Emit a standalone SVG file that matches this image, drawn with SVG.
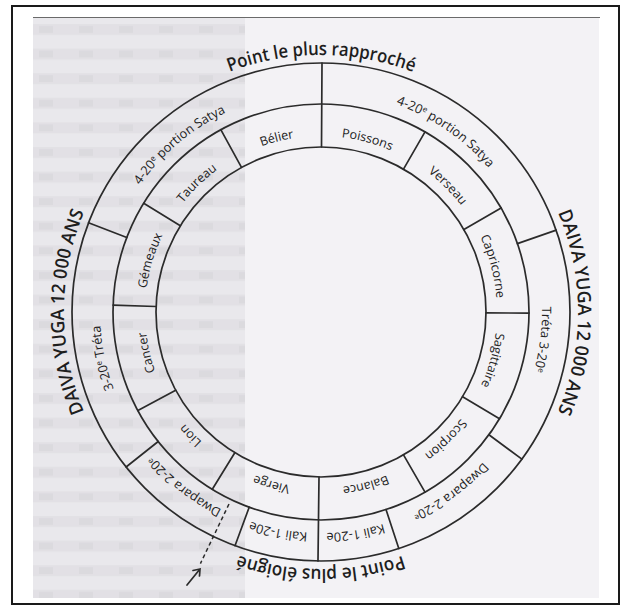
<svg xmlns="http://www.w3.org/2000/svg" width="625" height="607" viewBox="0 0 625 607">
<defs>
<pattern id="rows" x="33" y="20" width="40" height="24.6" patternUnits="userSpaceOnUse">
<rect x="0" y="4" width="40" height="11" fill="#d9d7dc" opacity="0.45"/>
<rect x="6" y="6" width="14" height="7" fill="#cfcdd3" opacity="0.35"/>
</pattern>
<path id="oA" d="M321,569 A257,257 0 1 1 321,55 A257,257 0 1 1 321,569"/>
<path id="oB" d="M321,55 A257,257 0 1 1 321,569 A257,257 0 1 1 321,55"/>
<path id="mA" d="M321,533 A221,221 0 1 1 321,91 A221,221 0 1 1 321,533"/>
<path id="mB" d="M321,91 A221,221 0 1 1 321,533 A221,221 0 1 1 321,91"/>
<path id="zA" d="M321,488 A176,176 0 1 1 321,136 A176,176 0 1 1 321,488"/>
<path id="zB" d="M321,136 A176,176 0 1 1 321,488 A176,176 0 1 1 321,136"/>
</defs>
<style>
.ln{stroke:#2b2b2b;stroke-width:1.7;fill:none;stroke-linecap:round}
.big{font-family:"Open Sans","Liberation Sans",sans-serif;font-size:18.5px;font-weight:600;fill:#1e1e1e;text-anchor:middle}
.mid{font-family:"Open Sans","Liberation Sans",sans-serif;font-size:12.8px;font-weight:500;fill:#222;text-anchor:middle}
.zod{font-family:"Open Sans","Liberation Sans",sans-serif;font-size:12.5px;font-weight:500;fill:#222;text-anchor:middle}
.sup{font-size:8px}
</style>
<g id="background">
<rect x="0" y="0" width="625" height="607" fill="#ffffff"/>
<rect x="12" y="6" width="607" height="598" fill="#ffffff" stroke="#1a1a1a" stroke-width="2"/>
<rect x="33" y="17" width="566" height="581" fill="#f3f2f5"/>
<rect x="33" y="17" width="212" height="581" fill="#e9e8ec"/>
<rect x="33" y="17" width="212" height="581" fill="url(#rows)"/>
<line x1="33" y1="17.5" x2="600" y2="17.5" stroke="#6a6a6a" stroke-width="1.2"/>
</g>
<g id="rings">
<circle class="ln" cx="321" cy="312" r="249"/>
<circle class="ln" cx="321" cy="312" r="208"/>
<circle class="ln" cx="321" cy="312" r="165"/>
</g>
<g id="connectors">
<line class="ln" x1="321.5" y1="147" x2="322" y2="63"/>
<line class="ln" x1="319" y1="477" x2="318" y2="561"/>
<line class="ln" x1="241.5" y1="167.4" x2="220.8" y2="129.7"/>
<line class="ln" x1="180.3" y1="225.8" x2="143.7" y2="203.3"/>
<line class="ln" x1="156.1" y1="306.5" x2="113.1" y2="305.1"/>
<line class="ln" x1="175.7" y1="390.2" x2="137.9" y2="410.6"/>
<line class="ln" x1="234.8" y1="452.7" x2="212.3" y2="489.3"/>
<line class="ln" x1="403.5" y1="169.1" x2="425" y2="131.9"/>
<line class="ln" x1="463.9" y1="229.5" x2="501.1" y2="208"/>
<line class="ln" x1="486" y1="312.9" x2="529" y2="313.1"/>
<line class="ln" x1="462.6" y1="396.7" x2="499.5" y2="418.8"/>
<line class="ln" x1="403.5" y1="454.9" x2="425" y2="492.1"/>
<line class="ln" x1="517.4" y1="243.6" x2="556.2" y2="230.1"/>
<line class="ln" x1="488.9" y1="434.8" x2="521.9" y2="459.1"/>
<line class="ln" x1="386" y1="509.6" x2="398.8" y2="548.6"/>
<line class="ln" x1="249.2" y1="507.2" x2="235" y2="545.7"/>
<line class="ln" x1="158.2" y1="441.5" x2="126.1" y2="467"/>
<line class="ln" x1="126.8" y1="237.5" x2="88.5" y2="222.8"/>
<line x1="229" y1="504" x2="200.4" y2="563.6" stroke="#2b2b2b" stroke-width="1.5" stroke-dasharray="4 3"/>
<path class="ln" d="M187,585 L200,569 M193,570.5 L200,569 L199.5,576"/>
</g>
<g id="labels">
<text class="big"><textPath href="#oA" startOffset="807.4" textLength="188" lengthAdjust="spacingAndGlyphs">Point le plus rapproché</textPath></text>
<text class="big"><textPath href="#oB" startOffset="807.4" textLength="167" lengthAdjust="spacingAndGlyphs">Point le plus éloigné</textPath></text>
<text class="big"><textPath href="#oA" startOffset="1211.1" textLength="205" lengthAdjust="spacingAndGlyphs">DAIVA YUGA 12 000 ANS</textPath></text>
<text class="big"><textPath href="#oA" startOffset="403.7" textLength="205" lengthAdjust="spacingAndGlyphs">DAIVA YUGA 12 000 ANS</textPath></text>
<text class="mid"><textPath href="#mA" startOffset="827.4">4-20<tspan class="sup" dy="-4">e</tspan><tspan dy="4"> portion Satya</tspan></textPath></text>
<text class="mid"><textPath href="#mA" startOffset="538.8">4-20<tspan class="sup" dy="-4">e</tspan><tspan dy="4"> portion Satya</tspan></textPath></text>
<text class="mid"><textPath href="#mA" startOffset="1068.4">Tréta 3-20<tspan class="sup" dy="-4">e</tspan></textPath></text>
<text class="mid"><textPath href="#mA" startOffset="300.9">3-20<tspan class="sup" dy="-4">e</tspan><tspan dy="4"> Tréta</tspan></textPath></text>
<text class="mid"><textPath href="#mA" startOffset="1249.7">Dwapara 2-20<tspan class="sup" dy="-3">e</tspan></textPath></text>
<text class="mid"><textPath href="#mA" startOffset="146.6">Dwapara 2-20<tspan class="sup" dy="-3">e</tspan></textPath></text>
<text class="mid"><textPath href="#mB" startOffset="659.6">Kali 1-20e</textPath></text>
<text class="mid"><textPath href="#mB" startOffset="736.7">Kali 1-20e</textPath></text>
<text class="zod"><textPath href="#zA" startOffset="508.7">Bélier</textPath></text>
<text class="zod"><textPath href="#zA" startOffset="417.8">Taureau</textPath></text>
<text class="zod"><textPath href="#zA" startOffset="327.8">Gémeaux</textPath></text>
<text class="zod"><textPath href="#zA" startOffset="235.9">Cancer</textPath></text>
<text class="zod"><textPath href="#zA" startOffset="143.1">Lion</textPath></text>
<text class="zod"><textPath href="#zB" startOffset="602.1">Vierge</textPath></text>
<text class="zod"><textPath href="#zB" startOffset="508.1">Balance</textPath></text>
<text class="zod"><textPath href="#zA" startOffset="969.2">Scorpion</textPath></text>
<text class="zod"><textPath href="#zA" startOffset="877.3">Sagittaire</textPath></text>
<text class="zod"><textPath href="#zA" startOffset="783.3">Capricorne</textPath></text>
<text class="zod"><textPath href="#zA" startOffset="691.2">Verseau</textPath></text>
<text class="zod"><textPath href="#zA" startOffset="599">Poissons</textPath></text>
</g>
</svg>
